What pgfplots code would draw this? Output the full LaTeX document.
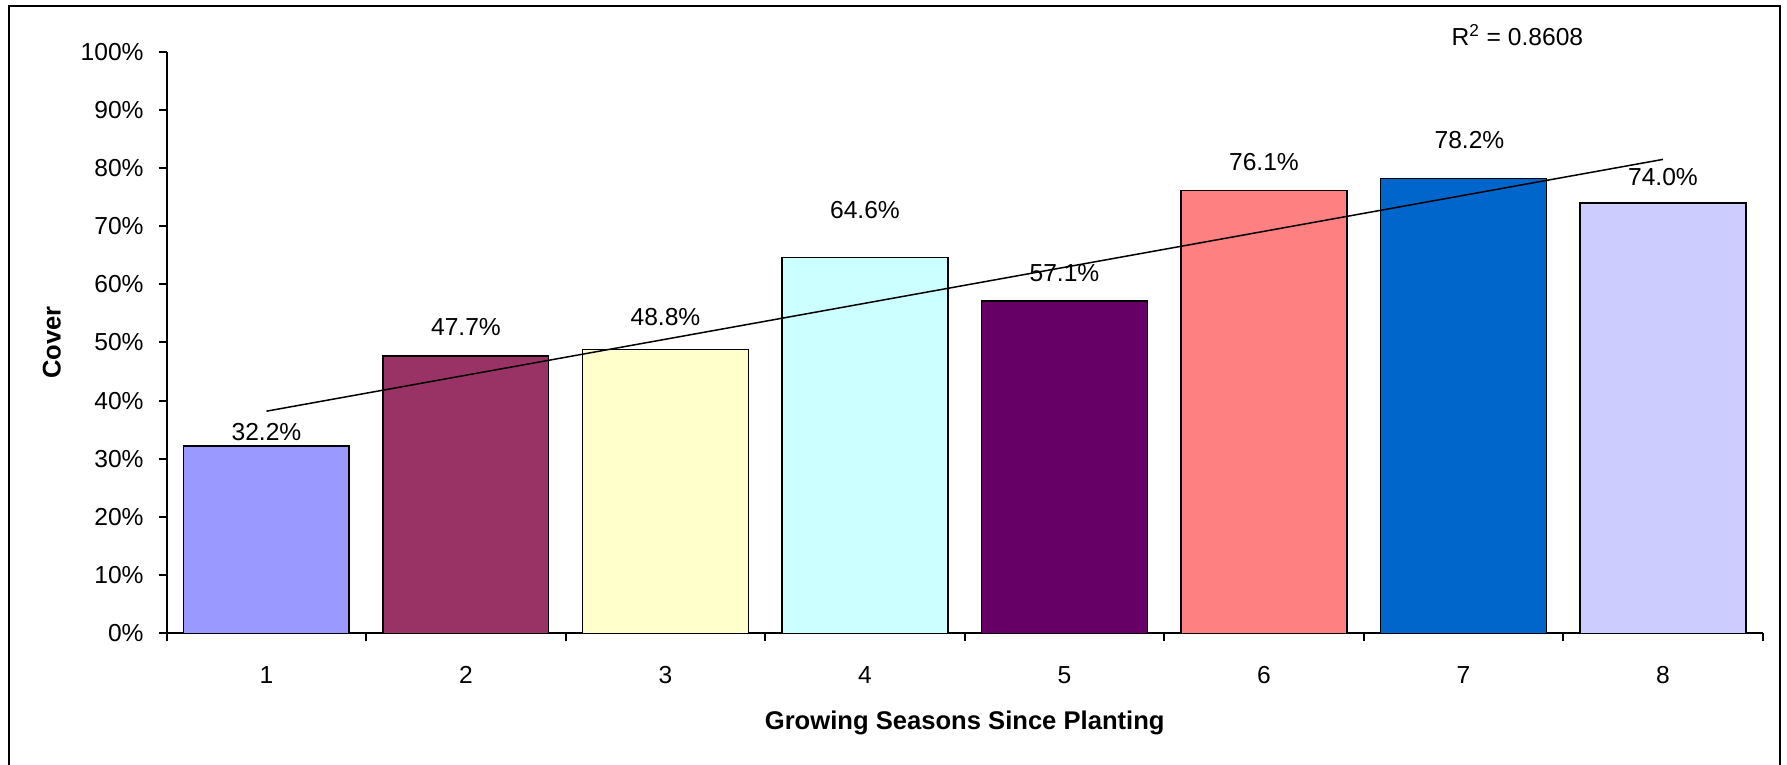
\documentclass[border=0pt]{standalone}
\usepackage{fontspec}
\setmainfont{Liberation Sans}
\usepackage{pgfplots}
\pgfplotsset{compat=1.18}

% Excel classic palette
\definecolor{c1}{HTML}{9999FF}
\definecolor{c2}{HTML}{993366}
\definecolor{c3}{HTML}{FFFFCC}
\definecolor{c4}{HTML}{CCFFFF}
\definecolor{c5}{HTML}{660066}
\definecolor{c6}{HTML}{FF8080}
\definecolor{c7}{HTML}{0066CC}
\definecolor{c8}{HTML}{CCCCFF}

\begin{document}
\begin{tikzpicture}
\useasboundingbox (0,0) rectangle (893.5pt,382.5pt);
% chart frame
\draw[line width=1.2pt] (4.5pt,-2pt) -- (4.5pt,379.5pt) -- (890pt,379.5pt) -- (890pt,-2pt);
\begin{axis}[
  at={(83.35pt,65.85pt)}, anchor=south west,
  scale only axis, width=798pt, height=290.8pt,
  xmin=0.5, xmax=8.5, ymin=0, ymax=100,
  axis x line*=bottom, axis y line*=left,
  axis line style={line width=1pt, black},
  clip=false,
  font=\fontsize{12.3}{14}\selectfont,
  /pgf/number format/assume math mode=true,
  tick align=outside,
  major tick length=4pt,
  tick style={black, line width=1pt},
  % category boundaries carry the tick marks, centres carry the labels
  xtick={0.5,1.5,...,8.5},
  xticklabels={},
  extra x ticks={1,...,8},
  extra x tick labels={1,2,3,4,5,6,7,8},
  extra x tick style={major tick length=0pt, xticklabel style={anchor=base, inner sep=0pt, yshift=-25pt}},
  ytick={0,10,...,100},
  yticklabels={0\%,10\%,20\%,30\%,40\%,50\%,60\%,70\%,80\%,90\%,100\%},
  yticklabel style={anchor=east, inner sep=0pt, xshift=-7.35pt},
  xlabel={\bfseries Growing Seasons Since Planting},
  ylabel={\bfseries Cover},
  xlabel style={at={([yshift=-44.85pt]axis description cs:0.5,0)}, anchor=center, font=\fontsize{12.8}{15}\selectfont},
  ylabel style={at={([xshift=-57.5pt]axis description cs:0,0.5)}, anchor=center, font=\fontsize{12.8}{15}\selectfont},
  every axis plot/.append style={ybar, bar width=0.83, bar shift=0pt, draw=black, line width=0.75pt},
]
\addplot[fill=c1] coordinates {(1,32.2)};
\addplot[fill=c2] coordinates {(2,47.7)};
\addplot[fill=c3] coordinates {(3,48.8)};
\addplot[fill=c4] coordinates {(4,64.6)};
\addplot[fill=c5] coordinates {(5,57.1)};
\addplot[fill=c6] coordinates {(6,76.1)};
\addplot[fill=c7] coordinates {(7,78.2)};
\addplot[fill=c8] coordinates {(8,74.0)};

% linear trend line
\addplot[sharp plot, black, line width=0.75pt] coordinates {(1,38.19) (8,81.48)};

% value labels
\begin{scope}[every node/.style={inner sep=0pt, anchor=center}]
\node at (axis cs:1,34.6) {32.2\%};
\node at (axis cs:2,52.7) {47.7\%};
\node at (axis cs:3,54.4) {48.8\%};
\node at (axis cs:4,72.8) {64.6\%};
\node at (axis cs:5,61.9) {57.1\%};
\node at (axis cs:6,81.1) {76.1\%};
\node at (axis cs:7.03,84.8) {78.2\%};
\node at (axis cs:8,78.5) {74.0\%};
\node at (axis cs:7.27,102.9) {R\textsuperscript{2} = 0.8608};
\end{scope}
\end{axis}
\end{tikzpicture}
\end{document}
